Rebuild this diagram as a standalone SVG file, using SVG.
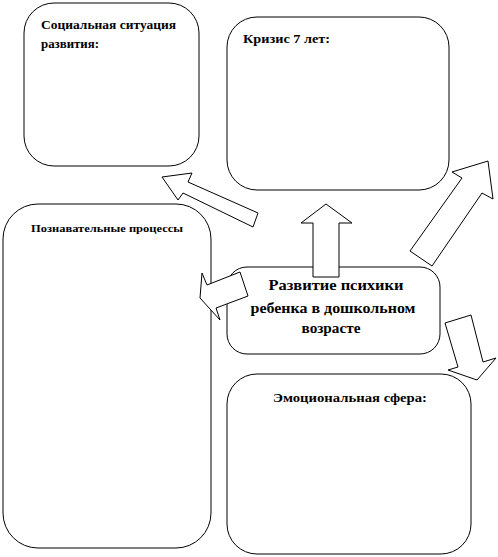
<svg xmlns="http://www.w3.org/2000/svg" width="498" height="557" viewBox="0 0 498 557">
<style>
.box{fill:#fff;stroke:#000;stroke-width:1}
.arr{fill:#fff;stroke:#000;stroke-width:1;stroke-linejoin:miter}
.t{font-family:'Liberation Serif','Times New Roman','DejaVu Serif',serif;font-weight:bold;fill:#000}
.s12{font-size:12px}
.s11{font-size:11px}
.s14{font-size:15px}
.s13{font-size:13px}
</style>
<rect width="498" height="557" fill="#fff"/>
<g id="node-social">
<rect class="box" x="24" y="3" width="175" height="163" rx="30" ry="30"/>
<text class="t s12" x="41" y="29" textLength="135" lengthAdjust="spacingAndGlyphs">Социальная ситуация</text>
<text class="t s12" x="41" y="48" textLength="58" lengthAdjust="spacingAndGlyphs">развития:</text>
</g>
<g id="node-crisis">
<rect class="box" x="227" y="17" width="222" height="173" rx="30" ry="30"/>
<text class="t s12" x="243" y="43" textLength="87" lengthAdjust="spacingAndGlyphs">Кризис 7 лет:</text>
</g>
<g id="node-cognitive">
<rect class="box" x="3" y="204" width="208" height="344" rx="35" ry="35"/>
<text class="t s11" x="31" y="232" textLength="152" lengthAdjust="spacingAndGlyphs">Познавательные  процессы</text>
</g>
<g id="node-center">
<rect class="box" x="227" y="267" width="213" height="87" rx="20" ry="20"/>
<text class="t s14" x="336" y="290" text-anchor="middle" textLength="135" lengthAdjust="spacingAndGlyphs">Развитие психики</text>
<text class="t s14" x="333" y="313" text-anchor="middle" textLength="165" lengthAdjust="spacingAndGlyphs">ребенка в дошкольном</text>
<text class="t s14" x="331" y="333" text-anchor="middle" textLength="59" lengthAdjust="spacingAndGlyphs">возрасте</text>
</g>
<g id="node-emotional">
<rect class="box" x="227" y="374" width="244" height="180" rx="30" ry="30"/>
<text class="t s13" x="350" y="402" text-anchor="middle" textLength="154" lengthAdjust="spacingAndGlyphs">Эмоциональная сфера:</text>
</g>
<g id="connectors">
<polygon class="arr" points="326,204 352,223 339,223 339,277 313,277 313,223 301,223"/>
<polygon class="arr" points="162,177 192,173 188,182 258,213 253,227 183,193 178,200"/>
<polygon class="arr" points="488,161 493,199 482,193 432,266 410,251 462,178 452,172"/>
<polygon class="arr" points="445,323 471,315 483,362 496,358 477,380 448,370 458,367"/>
<polygon class="arr" points="200,298 202,273 207,285 240,272 248,296 216,308 220,320"/>
</g>
</svg>
